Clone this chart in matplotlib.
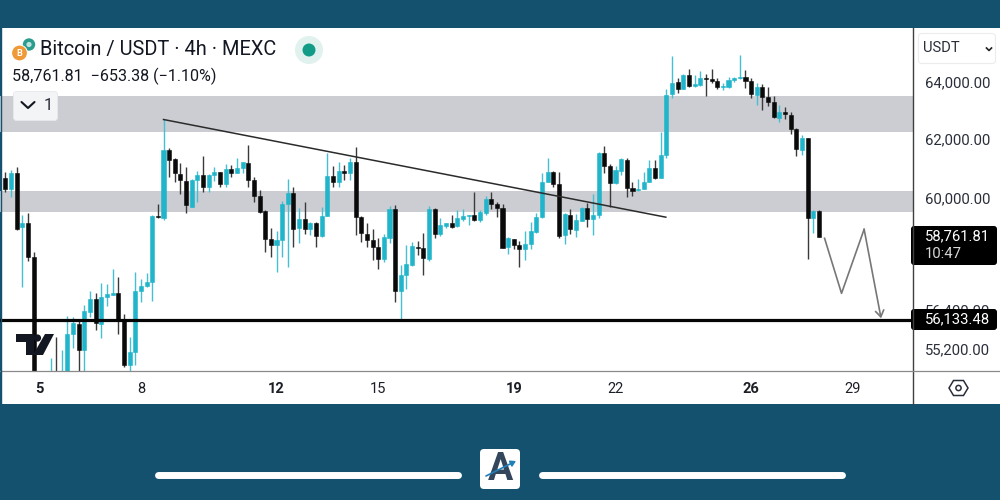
import matplotlib
matplotlib.use("Agg")
import matplotlib.pyplot as plt
from matplotlib.patches import Rectangle, FancyBboxPatch, Circle, Polygon
from matplotlib.ticker import NullLocator
from matplotlib.transforms import ScaledTranslation

plt.rcParams['font.family'] = ['Roboto', 'DejaVu Sans']

opens = [60710,60340,60880,59090,59240,58135,53800,53900,54150,54540,54150,54540,55700,56010,55210,56390,56780,56010,56862,56905,
56970,56155,54750,55157,57050,57200,57335,59460,59400,61670,61355,60855,60630,59765,60655,60822,60430,60822,60935,60510,
61015,60900,61070,61240,60655,60120,59633,58707,58512,58675,59845,60210,59055,59350,59023,59220,58805,59460,60800,60578,
60958,60900,61272,59415,58870,58675,58460,58050,58730,59680,57030,57547,57868,58460,58405,58060,59680,58870,59140,59240,
59130,59370,59460,59490,59327,59567,60010,59855,59712,58440,58717,58505,58383,58535,58945,59415,60600,60935,60510,58830,
59490,59000,59304,59712,59360,59490,61558,61138,60545,60968,61330,60397,60310,60343,60578,61060,60720,61500,63612,64025,
63788,64283,63894,63940,64177,64140,64070,63850,63850,64106,64166,64200,64080,63590,63850,63520,63320,62760,62970,62885,
62390,61670,62090,59400,59633]
highs = [60940,60990,61090,59490,59570,58285,54150,54200,54965,55607,55209,56257,56235,56133,56600,57050,56975,57303,57262,57730,
57494,56310,55600,57635,57420,57620,59490,59855,62740,61730,61390,61220,61100,60680,60968,61465,60845,61100,60935,61185,
61160,61390,61252,61840,60765,60320,59656,59075,58977,59954,60680,60410,59712,59930,59270,59270,59745,61558,61125,61272,
61160,61388,61785,59460,59220,59040,58730,58870,59790,59820,57868,58512,58620,58652,58890,59790,59712,59383,59240,59490,
59656,59680,59490,60243,59656,60120,60263,59930,59855,58762,58717,58640,58977,59270,59570,60880,61390,60970,60935,59547,
59680,59525,59745,59900,60187,61612,61805,61195,61125,61390,61390,60578,60680,60935,61330,61330,62300,63778,64960,64168,
64318,64486,64283,64425,64318,64486,64168,64010,64223,64223,65000,64460,64166,63990,63965,63850,63540,63226,63170,62990,
62415,62185,62090,59656,59656]
lows = [60260,60100,59000,57180,58005,54000,53600,53700,54000,54000,54000,54450,55270,54540,54540,56235,55823,55577,56570,56900,
55700,54700,54540,54750,56705,57180,56736,59380,59327,60765,60600,60187,59547,59745,59930,60263,60263,60630,60410,60410,
60745,60880,60880,60430,59930,59547,58295,58135,57654,58135,57813,58460,58567,58870,58837,58440,58762,59460,60410,60410,
60655,60655,58837,58620,58440,58028,57730,57975,58567,56705,56133,57095,57835,58190,57547,58005,58730,58805,59055,59055,
59087,59304,59162,59304,59270,59490,59680,59415,58425,58222,58375,57795,58028,58375,58912,59390,60600,60430,58730,58545,
58870,58780,59304,59087,58837,59383,60900,59745,60520,60822,60097,60130,60297,60343,60578,60690,60720,61388,63460,63636,
63788,63870,63870,63894,63540,63990,63778,63753,63810,64025,64130,63810,63460,63226,63051,63190,62760,62645,62730,62220,
61465,61500,58050,58912,58761.81]
closes = [60340,60900,59040,59240,58135,54150,54000,54100,54450,54150,54540,55700,56030,55209,56414,56780,56030,56862,56947,56980,
56140,54750,55157,57050,57200,57335,59460,59415,61670,61330,60880,60655,59822,60655,60822,60430,60822,60935,60510,61015,
60900,61070,61252,60655,60120,59600,58717,58512,58675,59845,60210,59030,59350,59023,59220,58805,59460,60800,60578,60958,
60900,61272,59415,58892,58675,58440,58050,58762,59680,57050,57547,57890,58480,58415,58080,59680,58870,59152,59240,59108,
59383,59460,59480,59327,59580,60020,59855,59712,58425,58730,58512,58383,58535,58977,59415,60600,60935,60520,58805,59515,
59023,59327,59712,59360,59480,61578,61138,60545,60992,61355,60397,60297,60343,60578,61060,60712,61500,63577,64010,63788,
64283,63894,63954,64190,64140,64080,63850,63894,64106,64166,64200,64080,63612,63850,63520,63320,62800,62980,62900,62390,
61695,62090,59400,59623,58761.81]

zones = [(62288, 63540), (59590, 60287)]
support_level = 56133.48
last_price = 58761.81
trend_x = [28, 116.9]
trend_y = [62720, 59420]
path_x = [145, 148, 152, 155]
path_y = [58730, 56967, 59023, 56186]
y_ticks = [55200, 56400, 60000, 62000, 64000]
date_pos = [6, 24, 48, 66, 90, 108, 132, 150]
date_labels = ['5', '8', '12', '15', '19', '22', '26', '29']
date_bold = [True, False, True, False, True, False, True, False]

TEAL = '#20b5ca'
BLACK = '#0a0a0a'
BG = '#14516f'
ZONE = '#cccdd2'

fig = plt.figure(figsize=(10, 5), dpi=100, facecolor=BG)

def px_axes(z):
    a = fig.add_axes([0, 0, 1, 1], zorder=z)
    a.set_xlim(0, 1000); a.set_ylim(500, 0); a.axis('off')
    a.patch.set_alpha(0)
    return a

back = px_axes(0)
back.add_patch(Rectangle((1, 28), 999, 376, fc='white', ec='none'))

ax = fig.add_axes([0, 1 - 371 / 500, 0.913, 343 / 500], zorder=1)
ax.patch.set_alpha(0)
ax.set_yscale('log')
ax.set_ylim(54571, 65978)
ax.set_xlim(-0.938, 160.65)
for s in ax.spines.values():
    s.set_visible(False)

for lo, hi in zones:
    ax.axhspan(lo, hi, color=ZONE, lw=0, zorder=1)

xs = list(range(len(opens)))
col = [TEAL if c >= o else BLACK for o, c in zip(opens, closes)]
wick_col = ['#45bfd2' if c >= o else '#3a3a3a' for o, c in zip(opens, closes)]
ax.vlines(xs, lows, highs, colors=wick_col, lw=1.0, zorder=2)
ax.bar(xs, [abs(c - o) for o, c in zip(opens, closes)],
       bottom=[min(o, c) for o, c in zip(opens, closes)],
       width=0.72, color=col, edgecolor=col, linewidth=0.4, zorder=3)

ax.plot(trend_x, trend_y, color='#2b2b2b', lw=1.1, zorder=4)
ax.plot(path_x[:3], path_y[:3], color='#777777', lw=1.2, zorder=4)
ax.annotate('', xy=(path_x[3], path_y[3]), xytext=(path_x[2], path_y[2]),
            arrowprops=dict(arrowstyle='->,head_length=0.45,head_width=0.3', color='#777777',
                            lw=1.2, shrinkA=0, shrinkB=0), zorder=4)
ax.axhline(support_level, color='#050505', lw=2.3, zorder=5)

ax.yaxis.tick_right()
ax.yaxis.set_minor_locator(NullLocator())
ax.set_yticks(y_ticks)
ax.set_yticklabels([f'{v:,.2f}' for v in y_ticks])
ax.yaxis.set_minor_locator(NullLocator())
ax.tick_params(axis='y', length=0, pad=8.5, labelsize=10.7, labelcolor='#2a2e39')
shift_up = ScaledTranslation(0, 2.2 / 72 * 0.72 * 100 / 100 * 72 / 100, fig.dpi_scale_trans)
for lbl in ax.get_yticklabels():
    lbl.set_transform(lbl.get_transform() + shift_up)
ax.set_xticks(date_pos)
ax.set_xticklabels(date_labels)
ax.tick_params(axis='x', length=0, pad=8, labelsize=10.5, labelcolor='#1c1f26')
for lbl, b in zip(ax.get_xticklabels(), date_bold):
    lbl.set_fontweight('bold' if b else 'normal')

top = px_axes(2)
# frame lines
top.plot([913, 913], [28, 404], color='#3f3f3f', lw=1.0)
top.plot([0, 1000], [371, 371], color='#8a8a8a', lw=0.9)
top.plot([0.5, 0.5], [28, 404], color=BG, lw=1.0)

# header
top.add_patch(Circle((29, 44.5), 6.2, fc='#2a9d8f', ec='none'))
top.add_patch(Circle((29, 44.5), 2.6, fc='#bfe3de', ec='none'))
top.add_patch(Circle((19.5, 53), 8.4, fc='white', ec='none'))
top.add_patch(Circle((19.5, 53), 7.4, fc='#ef9a37', ec='none'))
top.text(19.5, 53, 'B', color='white', fontsize=6.5, fontweight='bold', ha='center', va='center')
top.text(40, 50, 'Bitcoin / USDT · 4h · MEXC', fontsize=14.4, color='#131722', ha='left', va='center')
top.text(12, 76, '58,761.81  −653.38 (−1.10%)', fontsize=11.65, color='#131722', ha='left', va='center')
top.add_patch(Circle((309, 50), 14, fc='#e0f1ee', ec='none'))
top.add_patch(Circle((309, 50), 6.5, fc='#129c87', ec='none'))

# collapse button
top.add_patch(FancyBboxPatch((15, 93), 41, 26, boxstyle='round,pad=1.5,rounding_size=3',
                             fc='#f3f4f6', ec='#e8e9ec', lw=0.6))
top.plot([21.5, 28, 34.5], [102, 108, 102], color='#131722', lw=1.5, solid_capstyle='round')
top.text(48, 105, '1', fontsize=12, color='#2a2e39', ha='center', va='center')

# currency box
top.add_patch(FancyBboxPatch((920, 35), 74, 27, boxstyle='round,pad=1.5,rounding_size=3',
                             fc='white', ec='#ececef', lw=0.8))
top.text(923, 48.5, 'USDT', fontsize=10.6, color='#2a2e39', ha='left', va='center')
top.plot([986.5, 989, 991.5], [48, 50.5, 48], color='#222222', lw=1.2)

# price labels
for y0, y1 in [(226, 265), (309, 330)]:
    top.add_patch(FancyBboxPatch((913, y0 + 2), 82, y1 - y0 - 4,
                                 boxstyle='round,pad=2,rounding_size=3', fc='black', ec='none'))
top.text(925, 236, f'{last_price:,.2f}', fontsize=10.7, color='white', ha='left', va='center')
top.text(925, 254, '10:47', fontsize=10.7, color='#d8d8d8', ha='left', va='center')
top.text(925, 319, f'{support_level:,.2f}', fontsize=10.7, color='white', ha='left', va='center')

# settings hexagon
top.add_patch(Polygon([(949, 388), (953.5, 380.5), (963.5, 380.5), (968, 388), (963.5, 395.5), (953.5, 395.5)],
                      closed=True, fc='none', ec='#2a2e39', lw=1.1))
top.add_patch(Circle((958.5, 388), 2.6, fc='none', ec='#2a2e39', lw=1.1))

# TradingView mark
top.add_patch(Polygon([(16, 334), (34, 334), (34, 355), (26, 355), (26, 342), (16, 342)], closed=True, fc='#131722', ec='none'))
top.add_patch(Circle((37.5, 338), 3.6, fc='#131722', ec='none'))
top.add_patch(Polygon([(45, 334), (54, 334), (43, 355), (33, 355)], closed=True, fc='#131722', ec='none'))

# bottom bar and badge
for x0, x1 in [(155, 461), (539, 845)]:
    top.plot([x0 + 3, x1 - 3], [475, 475], color='white', lw=5, solid_capstyle='round')
top.add_patch(FancyBboxPatch((482, 451), 36, 36, boxstyle='round,pad=2,rounding_size=4', fc='white', ec='none'))
top.text(500, 469.5, 'A', fontsize=27, fontweight='bold', color='#33465c', ha='center', va='center')
top.annotate('', xy=(516, 461), xytext=(486, 476),
             arrowprops=dict(arrowstyle='-|>,head_length=0.3,head_width=0.18', color='#1f7fb8', lw=1.2,
                             shrinkA=0, shrinkB=0))

fig.savefig('out.png', dpi=100, facecolor=BG)
